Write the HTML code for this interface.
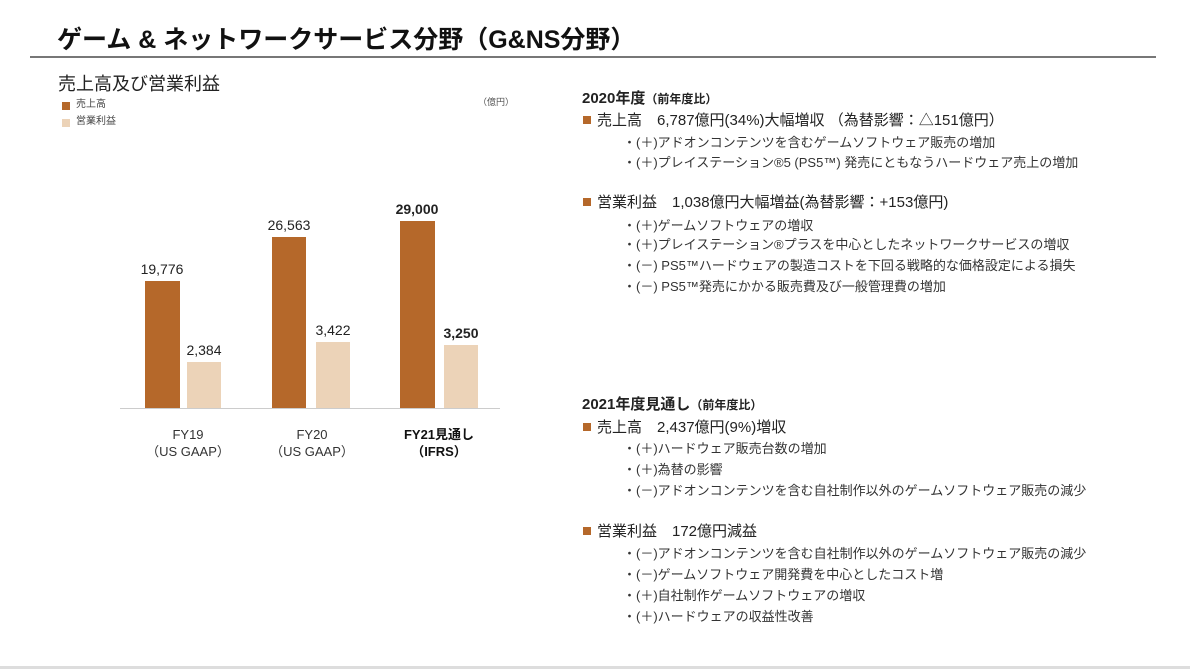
<!DOCTYPE html>
<html><head><meta charset="utf-8"><style>
body{margin:0;width:1190px;height:669px;background:#fff;position:relative;overflow:hidden;font-family:"Liberation Sans","Noto Sans CJK JP",sans-serif;color:#222}
.a{position:absolute;white-space:nowrap;line-height:1}
.b{position:absolute}
.s{font-size:13px;color:#333}
.m{font-size:15px;color:#222}
.sq{display:inline-block;width:8px;height:8px;background:#b5682a;margin-right:6px;vertical-align:1px}
.v{font-size:14px;text-align:center;width:80px}
</style></head><body>
<div class="a" style="left:57px;top:28px;font-size:25px;font-weight:bold;color:#111">ゲーム &amp; ネットワークサービス分野（G&amp;NS分野）</div>
<div class="b" style="left:30px;top:56px;width:1126px;height:2px;background:#777"></div>
<div class="a" style="left:58px;top:75px;font-size:18px">売上高及び営業利益</div>
<div class="b" style="left:62px;top:102px;width:8px;height:8px;background:#b5682a"></div>
<div class="a" style="left:76px;top:100px;font-size:10px;color:#444">売上高</div>
<div class="b" style="left:62px;top:119px;width:8px;height:8px;background:#ecd3b8"></div>
<div class="a" style="left:76px;top:117px;font-size:10px;color:#444">営業利益</div>
<div class="a" style="left:478px;top:98px;font-size:9px;color:#555">（億円）</div>
<div class="b" style="left:120px;top:408px;width:380px;height:1px;background:#ccc"></div>
<div class="b" style="left:145px;top:281px;width:35px;height:127px;background:#b5682a"></div>
<div class="b" style="left:187px;top:362px;width:34px;height:46px;background:#ecd3b8"></div>
<div class="b" style="left:272px;top:237px;width:34px;height:171px;background:#b5682a"></div>
<div class="b" style="left:316px;top:342px;width:34px;height:66px;background:#ecd3b8"></div>
<div class="b" style="left:400px;top:221px;width:35px;height:187px;background:#b5682a"></div>
<div class="b" style="left:444px;top:345px;width:34px;height:63px;background:#ecd3b8"></div>
<div class="a v" style="left:122px;top:262px">19,776</div>
<div class="a v" style="left:164px;top:343px">2,384</div>
<div class="a v" style="left:249px;top:218px">26,563</div>
<div class="a v" style="left:293px;top:323px">3,422</div>
<div class="a v" style="left:377px;top:202px;font-weight:bold">29,000</div>
<div class="a v" style="left:421px;top:326px;font-weight:bold">3,250</div>
<div class="a s" style="left:143px;top:426px;width:90px;text-align:center;line-height:17px">FY19<br>（US GAAP）</div>
<div class="a s" style="left:267px;top:426px;width:90px;text-align:center;line-height:17px">FY20<br>（US GAAP）</div>
<div class="a s" style="left:394px;top:426px;width:90px;text-align:center;line-height:17px;font-weight:bold;color:#111">FY21見通し<br>（IFRS）</div>

<div class="a" style="left:582px;top:91px;font-size:15px;font-weight:bold">2020年度<span style="font-size:12px">（前年度比）</span></div>
<div class="a m" style="left:583px;top:113px"><span class="sq"></span>売上高　6,787億円(34%)大幅増収 （為替影響：△151億円）</div>
<div class="a s" style="left:623px;top:136px">・(＋)アドオンコンテンツを含むゲームソフトウェア販売の増加</div>
<div class="a s" style="left:623px;top:156px">・(＋)プレイステーション®5 (PS5™) 発売にともなうハードウェア売上の増加</div>
<div class="a m" style="left:583px;top:195px"><span class="sq"></span>営業利益　1,038億円大幅増益(為替影響：+153億円)</div>
<div class="a s" style="left:623px;top:219px">・(＋)ゲームソフトウェアの増収</div>
<div class="a s" style="left:623px;top:238px">・(＋)プレイステーション®プラスを中心としたネットワークサービスの増収</div>
<div class="a s" style="left:623px;top:259px">・(－) PS5™ハードウェアの製造コストを下回る戦略的な価格設定による損失</div>
<div class="a s" style="left:623px;top:280px">・(－) PS5™発売にかかる販売費及び一般管理費の増加</div>

<div class="a" style="left:582px;top:397px;font-size:15px;font-weight:bold">2021年度見通し<span style="font-size:12px">（前年度比）</span></div>
<div class="a m" style="left:583px;top:420px"><span class="sq"></span>売上高　2,437億円(9%)増収</div>
<div class="a s" style="left:623px;top:442px">・(＋)ハードウェア販売台数の増加</div>
<div class="a s" style="left:623px;top:463px">・(＋)為替の影響</div>
<div class="a s" style="left:623px;top:484px">・(－)アドオンコンテンツを含む自社制作以外のゲームソフトウェア販売の減少</div>
<div class="a m" style="left:583px;top:524px"><span class="sq"></span>営業利益　172億円減益</div>
<div class="a s" style="left:623px;top:547px">・(－)アドオンコンテンツを含む自社制作以外のゲームソフトウェア販売の減少</div>
<div class="a s" style="left:623px;top:568px">・(－)ゲームソフトウェア開発費を中心としたコスト増</div>
<div class="a s" style="left:623px;top:589px">・(＋)自社制作ゲームソフトウェアの増収</div>
<div class="a s" style="left:623px;top:610px">・(＋)ハードウェアの収益性改善</div>
<div class="b" style="left:0;top:666px;width:1190px;height:3px;background:#ddd"></div>
</body></html>
